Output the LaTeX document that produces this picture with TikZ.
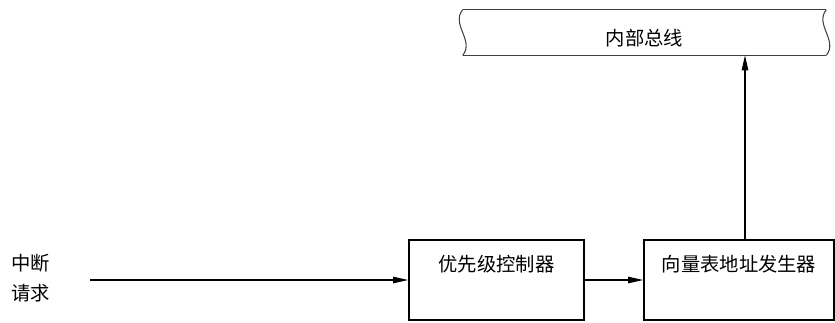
\documentclass[tikz,border=0pt]{standalone}
\usepackage{fontspec}
\newfontfamily\cjk{Noto Sans CJK SC}
\usetikzlibrary{arrows.meta, positioning, calc}

\begin{document}
\begin{tikzpicture}[x=0.02cm, y=-0.02cm,
  every node/.style={font=\cjk\fontsize{11}{17}\selectfont},
  block/.style={draw, line width=1.1pt, minimum height=1.6cm},
  busbox/.style={minimum width=7.26cm, minimum height=0.9cm, inner sep=0pt},
  busline/.style={draw=black!75, line width=0.6pt},
  arrow/.style={-{Triangle[length=3mm, width=1.3mm]}, line width=0.6pt}
]
\useasboundingbox (0,0) rectangle (835,322);

\node[busbox] (bus) at (644.5,32.5) {\raisebox{-0.25cm}[0pt][0pt]{内部总线}};
\draw[busline] (bus.north west) -- (bus.north east);
\draw[busline] (bus.south west) -- (bus.south east);
\draw[busline] (bus.north west) .. controls +(-12,15) and +(12,-15) .. (bus.south west);
\draw[busline] (bus.north east) .. controls +(-12,15) and +(12,-15) .. (bus.south east);

\node[block, minimum width=3.5cm,
  label={[anchor=center, yshift=-0.5cm]north:优先级控制器}] (prio) at (496.5,280) {};
\node[block, minimum width=3.8cm,
  label={[anchor=center, yshift=-0.5cm]north:向量表地址发生器}] (vec) at (739,280) {};

\node[align=left] (irq) at (31,278) {中断\\请求};
\coordinate (in) at (90,280);

\draw[arrow] (in) -- (prio);
\draw[arrow] (prio) -- (vec);
\draw[arrow] ([xshift=0.12cm]vec.north) -- ([xshift=0.12cm]vec.north |- bus.south);
\end{tikzpicture}
\end{document}
